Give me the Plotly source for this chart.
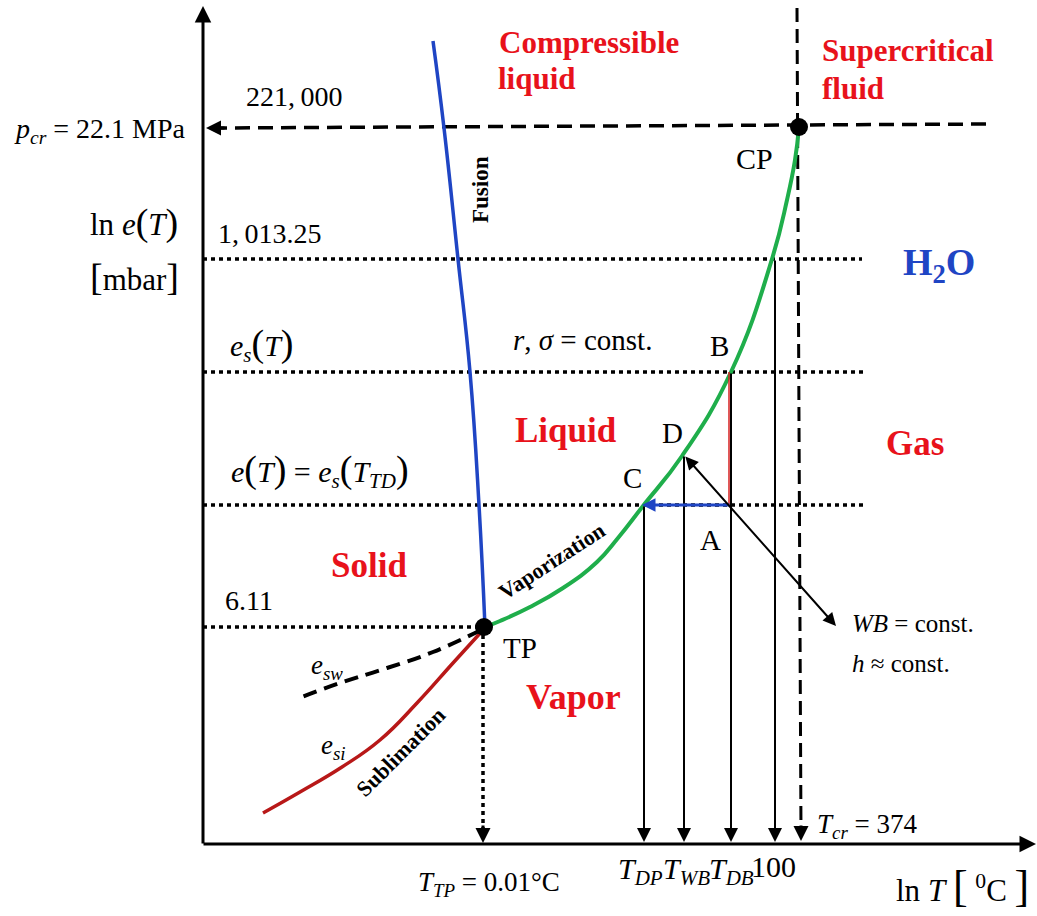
import plotly.graph_objects as go

# ---------------- data (schematic diagram coordinates: x = ln T axis, y = ln e axis, y grows downward) ----
fusion_x = [433, 444, 458, 470, 479, 485]
fusion_y = [41, 128, 259, 372, 505, 627]

vapor_x = [485, 500, 530, 563, 597, 618, 643, 682, 731, 772, 787, 795, 799]
vapor_y = [627, 621, 607, 588, 562, 538, 506, 456, 372, 259, 200, 160, 127]

subl_x = [483, 453, 417, 380, 342, 300, 263]
subl_y = [630, 663, 703, 740, 767, 792, 813]

esw_x = [481, 433, 387, 340, 297]
esw_y = [630, 652, 668, 683, 699]

cp_point = (799, 127)
tp_point = (484, 627)

# pressure levels (diagram y) and their labels
level_y = {"pcr": 128, "atm": 259, "es": 372, "e": 505, "tp": 627}
level_labels = ["221,\u2009000", "1,\u2009013.25", "6.11"]

# temperatures (diagram x) on the ln T axis
temp_x = {"DP": 644, "WB": 684, "DB": 731, "100": 775, "cr": 801, "TP": 483}
temp_labels = ["<i>T</i><sub><i>DP</i></sub>", "<i>T</i><sub><i>WB</i></sub>",
               "<i>T</i><sub><i>DB</i></sub>", "100"]

axis_origin = (203, 844)

SERIF = "Liberation Serif, Times New Roman, serif"
RED = "#e8121b"
BLUE = "#1f45c4"
GREEN = "#1fae4b"
DARKRED = "#b81818"

fig = go.Figure()

def line(xs, ys, color="black", width=3, dash=None, smooth=1.3):
    fig.add_trace(go.Scatter(x=xs, y=ys, mode="lines",
                             line=dict(color=color, width=width, dash=dash, shape="spline", smoothing=smooth),
                             hoverinfo="skip", showlegend=False))

# dotted horizontal levels
line([axis_origin[0], 862], [level_y["atm"]] * 2, width=3.5, dash="4px,4px")
line([axis_origin[0], 866], [level_y["es"]] * 2, width=3.5, dash="4px,4px")
line([axis_origin[0], 866], [level_y["e"]] * 2, width=3.5, dash="4px,4px")
line([axis_origin[0], tp_point[0]], [level_y["tp"]] * 2, width=3.5, dash="4px,4px")
# dotted vertical from TP
line([temp_x["TP"], temp_x["TP"]], [tp_point[1] + 8, axis_origin[1] - 10], width=3.5, dash="4px,4px")

# dashed critical lines
line([212, 992], [level_y["pcr"], 124], width=3.5, dash="15px,8px")
line([797, temp_x["cr"]], [8, axis_origin[1] - 10], width=3, dash="14px,7px")

# phase curves
line(fusion_x, fusion_y, color=BLUE, width=3.5)
line(vapor_x, vapor_y, color=GREEN, width=4)
line(subl_x, subl_y, color=DARKRED, width=3.5)
line(esw_x, esw_y, color="black", width=4, dash="14px,8px")

# red thin line B -> A
line([temp_x["DB"] - 2, temp_x["DB"] - 2], [level_y["es"], level_y["e"]], color="#d42020", width=1.5)

# points
fig.add_trace(go.Scatter(x=[cp_point[0], tp_point[0]], y=[cp_point[1], tp_point[1]], mode="markers",
                         marker=dict(color="black", size=18), hoverinfo="skip", showlegend=False))

ann = []

def arrow(x, y, ax, ay, color="black", width=2, head=2, size=1.0, side="end"):
    ann.append(dict(x=x, y=y, ax=ax, ay=ay, xref="x", yref="y", axref="x", ayref="y",
                    text="", showarrow=True, arrowhead=head, arrowsize=size, arrowwidth=width,
                    arrowcolor=color, standoff=0, startstandoff=0, arrowside=side,
                    startarrowhead=head, startarrowsize=size))

# axes
arrow(axis_origin[0], 6, axis_origin[0], axis_origin[1] + 1, width=3, size=1.1)
arrow(1036, axis_origin[1], axis_origin[0] - 1, axis_origin[1], width=3, size=1.1)
# arrow heads of dotted/dashed lines
arrow(206, level_y["pcr"], 226, level_y["pcr"], width=3, size=1.0)
arrow(temp_x["TP"], axis_origin[1] - 1, temp_x["TP"], axis_origin[1] - 20, width=3, size=1.0)
arrow(temp_x["cr"], axis_origin[1] - 3, temp_x["cr"], axis_origin[1] - 20, width=3, size=1.0)
# vertical temperature arrows
arrow(temp_x["DP"], axis_origin[1] - 2, temp_x["DP"], level_y["e"], width=2, size=1.4)
arrow(temp_x["WB"], axis_origin[1] - 2, temp_x["WB"], 455, width=2, size=1.4)
arrow(temp_x["DB"], axis_origin[1] - 2, temp_x["DB"], level_y["es"], width=2, size=1.4)
arrow(temp_x["100"], axis_origin[1] - 2, temp_x["100"], level_y["atm"], width=2, size=1.4)
# A -> C cooling arrow
arrow(temp_x["DP"] - 2, level_y["e"], temp_x["DB"], level_y["e"], color=BLUE, width=3, size=0.9)
# wet-bulb double arrow
arrow(836, 626, 684, 455, width=2, size=1.3, side="end+start")

def text(x, y, s, size=27, color="black", bold=False, angle=0, xanchor="center", family=SERIF):
    if bold:
        s = "<b>" + s + "</b>"
    ann.append(dict(x=x, y=y, xref="x", yref="y", text=s, showarrow=False, textangle=angle,
                    xanchor=xanchor, yanchor="middle", font=dict(family=family, size=size, color=color)))

BIG = "<span style='font-size:38px'>%s</span>"

# y-axis side labels
text(294, 96, level_labels[0], size=28)
text(100, 130, "<i>p</i><sub><i>cr</i></sub> = 22.1 MPa", size=28)
text(134, 222, "ln <i>e</i>" + BIG % "(" + "<i>T</i>" + BIG % ")", size=31)
text(134, 277, BIG % "[" + "mbar" + BIG % "]", size=31)
text(270, 233, level_labels[1], size=28)
text(262, 344, "<i>e</i><sub><i>s</i></sub>" + BIG % "(" + "<i>T</i>" + BIG % ")", size=30)
text(320, 470, "<i>e</i>" + BIG % "(" + "<i>T</i>" + BIG % ")" + " = <i>e</i><sub><i>s</i></sub>"
     + BIG % "(" + "<i>T</i><sub><i>TD</i></sub>" + BIG % ")", size=30)
text(249, 600, level_labels[2], size=28)

# region labels
text(589, 42, "Compressible", size=31, color=RED, bold=True)
text(537, 78, "liquid", size=31, color=RED, bold=True)
text(908, 50, "Supercritical", size=31, color=RED, bold=True)
text(853, 88, "fluid", size=31, color=RED, bold=True)
text(566, 430, "Liquid", size=35, color=RED, bold=True)
text(915, 443, "Gas", size=35, color=RED, bold=True)
text(369, 565, "Solid", size=35, color=RED, bold=True)
text(573, 697, "Vapor", size=36, color=RED, bold=True)
text(939, 265, "H<sub>2</sub>O", size=38, color=BLUE, bold=True)

# curve labels
text(480, 190, "Fusion", size=23, bold=True, angle=-90)
text(551, 561, "Vaporization", size=22, bold=True, angle=-33)
text(400, 752, "Sublimation", size=22, bold=True, angle=-45)
text(327, 667, "<i>e</i><sub><i>sw</i></sub>", size=27)
text(333, 747, "<i>e</i><sub><i>si</i></sub>", size=27)

# point labels
text(754, 158, "CP", size=30)
text(719, 346, "B", size=29)
text(672, 433, "D", size=29)
text(632, 478, "C", size=29)
text(710, 540, "A", size=29)
text(520, 648, "TP", size=29)
text(582, 340, "<i>r</i>, <i>σ</i> = const.", size=29)
text(850, 623, "<i>WB</i> = const.", size=25, xanchor="left")
text(850, 663, "<i>h</i> ≈ const.", size=25, xanchor="left")

# x-axis labels
text(temp_x["DP"] - 4, 871, temp_labels[0], size=30)
text(temp_x["WB"] + 2, 871, temp_labels[1], size=30)
text(temp_x["DB"], 871, temp_labels[2], size=30)
text(temp_x["100"] - 2, 866, temp_labels[3], size=30)
text(815, 826, "<i>T</i><sub><i>cr</i></sub> = 374", size=27, xanchor="left")
text(489, 884, "<i>T</i><sub><i>TP</i></sub> = 0.01°C", size=27)
text(962, 886, "ln <i>T</i> <span style='font-size:44px'>[</span> <sup>0</sup>C <span style='font-size:44px'>]</span>",
     size=31)

fig.update_layout(
    width=1037, height=916, margin=dict(l=0, r=0, t=0, b=0),
    paper_bgcolor="white", plot_bgcolor="white",
    xaxis=dict(range=[0, 1037], visible=False, fixedrange=True),
    yaxis=dict(range=[916, 0], visible=False, fixedrange=True),
    annotations=ann, showlegend=False,
)

fig.write_html("out.html")
